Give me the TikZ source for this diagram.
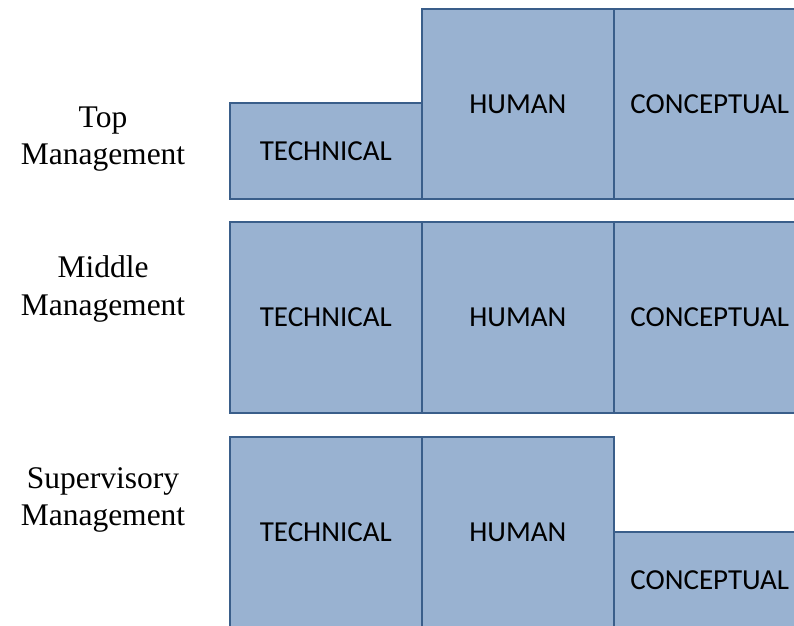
\documentclass[tikz,border=0pt]{standalone}
\usepackage{fontspec}
\setmainfont{Liberation Serif}
\newfontfamily\boxfont{Carlito}
\definecolor{skillfill}{RGB}{153,178,209}
\definecolor{skilledge}{RGB}{58,94,138}
\begin{document}
\begin{tikzpicture}[x=1pt,y=-1pt,
    skill/.style={draw=skilledge, fill=skillfill, line width=1.6pt,
      minimum width=192pt, inner sep=0pt, anchor=north west,
      font=\boxfont\fontsize{29}{35}\selectfont},
    level/.style={align=center, font=\fontsize{31.5}{37.5}\selectfont}]
  \useasboundingbox (0,0) rectangle (794,625);
  \clip (0,0) rectangle (794,625);
  % top management
  \node[skill, minimum height=96pt] (toptech) at (229,102) {TECHNICAL};
  \node[skill, minimum height=190pt] (tophum) at (421,8) {HUMAN};
  \node[skill, minimum height=190pt] (topconc) at (613,8) {CONCEPTUAL};
  % middle management
  \node[skill, minimum height=191pt] (midtech) at (229,221) {TECHNICAL};
  \node[skill, minimum height=191pt] (midhum) at (421,221) {HUMAN};
  \node[skill, minimum height=191pt] (midconc) at (613,221) {CONCEPTUAL};
  % supervisory management
  \node[skill, minimum height=190pt] (suptech) at (229,436) {TECHNICAL};
  \node[skill, minimum height=190pt] (suphum) at (421,436) {HUMAN};
  \node[skill, minimum height=96pt] (supconc) at (613,531) {CONCEPTUAL};
  % level labels
  \node[level] (top) at (103,139) {Top\\Management};
  \node[level] (middle) at (103,289) {Middle\\Management};
  \node[level] (super) at (103,500) {Supervisory\\Management};
\end{tikzpicture}
\end{document}
